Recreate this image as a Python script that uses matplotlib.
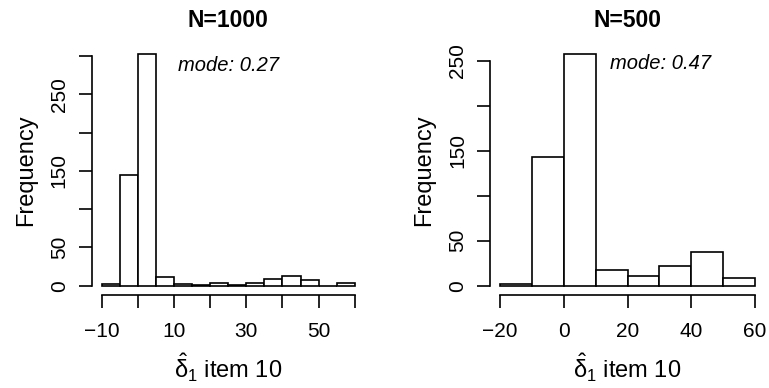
import numpy as np
import matplotlib
matplotlib.use("Agg")
import matplotlib.pyplot as plt

plt.rcParams['font.family'] = ['Liberation Sans', 'DejaVu Sans']
plt.rcParams['mathtext.fontset'] = 'custom'
plt.rcParams['mathtext.rm'] = 'Liberation Sans'
plt.rcParams['mathtext.it'] = 'Liberation Sans:italic'
plt.rcParams['mathtext.bf'] = 'Liberation Sans:bold'

# N=1000: bins of width 5 from -10 to 60
edges_1000 = np.arange(-10, 61, 5)
counts_1000 = [2, 145, 303, 12, 2, 1, 3, 1, 4, 9, 13, 8, 0, 3]
xticks_1000 = [-10, 0, 10, 20, 30, 40, 50, 60]
xlabels_1000 = ['\u221210', '', '10', '', '30', '', '50', '']
yticks_1000 = [0, 50, 100, 150, 200, 250, 300]
ylabels_1000 = ['0', '50', '', '150', '', '250', '']

# N=500: bins of width 10 from -20 to 60
edges_500 = np.arange(-20, 61, 10)
counts_500 = [2, 143, 258, 18, 11, 22, 37, 9]
xticks_500 = [-20, 0, 20, 40, 60]
xlabels_500 = ['\u221220', '0', '20', '40', '60']
yticks_500 = [0, 50, 100, 150, 200, 250]
ylabels_500 = ['0', '50', '', '150', '', '250']

LW = 1.2

fig = plt.figure(figsize=(7.69, 3.88), dpi=100)


def panel(rect, edges, counts, xt, xl, yt, yl, title, mode_txt, mode_xy):
    ax = fig.add_axes(rect)
    w = edges[1] - edges[0]
    ax.bar(edges[:-1], counts, width=w, align='edge', facecolor='white',
           edgecolor='black', linewidth=LW)
    xr = edges[-1] - edges[0]
    ax.set_xlim(edges[0] - 0.04 * xr, edges[-1] + 0.04 * xr)
    ym = max(counts)
    ax.set_ylim(-0.04 * ym, 1.04 * ym)
    for s in ['top', 'right']:
        ax.spines[s].set_visible(False)
    ax.spines['left'].set_bounds(yt[0], yt[-1])
    ax.spines['bottom'].set_bounds(xt[0], xt[-1])
    for s in ['left', 'bottom']:
        ax.spines[s].set_linewidth(LW)
    ax.set_xticks(xt)
    ax.set_xticklabels(xl)
    ax.set_yticks(yt)
    ax.set_yticklabels(yl, rotation=90, va='center')
    ax.tick_params(axis='both', length=9.4, width=LW, labelsize=15)
    ax.tick_params(axis='x', pad=10)
    ax.tick_params(axis='y', pad=7)
    ax.text(mode_xy[0], mode_xy[1], mode_txt, style='italic', fontsize=14.5,
            ha='center', va='center')
    ax.set_title(title, fontsize=16.5, fontweight='bold', pad=12.5)
    ax.set_ylabel('Frequency', fontsize=17, labelpad=9)
    ax.set_xlabel(r'$\hat{\mathrm{\delta}}_1$ item 10', fontsize=17, labelpad=8)
    return ax


panel([0.119, 0.2397, 0.3555, 0.6459], edges_1000, counts_1000,
      xticks_1000, xlabels_1000, yticks_1000, ylabels_1000,
      'N=1000', 'mode: 0.27', (25, 288))
panel([0.6369, 0.2397, 0.3582, 0.6459], edges_500, counts_500,
      xticks_500, xlabels_500, yticks_500, ylabels_500,
      'N=500', 'mode: 0.47', (30.5, 247))

fig.savefig('out.png', dpi=100)
